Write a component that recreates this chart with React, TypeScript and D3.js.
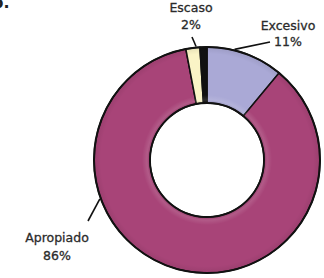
import React from "react";
import * as d3 from "d3";

const categories = ["Excesivo", "Apropiado", "Escaso", "Otro"];
const values = [11, 86, 2, 1];
const labels = ["11%", "86%", "2%", ""];
const colors = ["#aaa9d6", "#a84478", "#faf4c6", "#111111"];

const W = 324;
const H = 278;
const cx = 207;
const cy = 160;
const rOuter = 113;
const rInner = 57;

const labelLayout: Record<string, { x: number; y1: number; y2: number; ang: number; lx: number; ly: number }> = {
  Excesivo: { x: 288, y1: 30, y2: 46, ang: 14, lx: 270, ly: 42 },
  Apropiado: { x: 57, y1: 242, y2: 260, ang: 250, lx: 88, ly: 221 },
  Escaso: { x: 191, y1: 12, y2: 29, ang: 354.5, lx: 192, ly: 37 },
};

export default function App() {
  const pie = d3
    .pie<number>()
    .sort(null)
    .value((d) => d)
    .startAngle(0)
    .endAngle(2 * Math.PI);
  const arcs = pie(values);
  const arc = d3.arc<d3.PieArcDatum<number>>().innerRadius(rInner).outerRadius(rOuter);
  const ring = d3.arc()({ innerRadius: rInner, outerRadius: rOuter, startAngle: 0, endAngle: 2 * Math.PI }) || "";
  const fontFamily = "'DejaVu Sans', sans-serif";

  return (
    <svg width={W} height={H} style={{ position: "absolute", left: 0, top: 0, background: "#fff" }}>
      <defs>
        <radialGradient id="bevel" cx={0} cy={0} r={rOuter} gradientUnits="userSpaceOnUse">
          <stop offset={rInner / rOuter} stopColor="#000" stopOpacity={0.12} />
          <stop offset={(rInner + 3) / rOuter} stopColor="#fff" stopOpacity={0.12} />
          <stop offset={(rInner + 8) / rOuter} stopColor="#fff" stopOpacity={0} />
          <stop offset={0.94} stopColor="#000" stopOpacity={0} />
          <stop offset={1} stopColor="#000" stopOpacity={0.08} />
        </radialGradient>
      </defs>
      <text x={-8} y={8} fontFamily={fontFamily} fontWeight="bold" fontSize={16} fill="#222">
        b.
      </text>
      <g transform={`translate(${cx},${cy})`}>
        {arcs.map((a, i) => (
          <path key={categories[i]} d={arc(a) || ""} fill={colors[i]} stroke="#111" strokeWidth={1.5} />
        ))}
        <path d={ring} fill="url(#bevel)" pointerEvents="none" />
        <circle r={rOuter} fill="none" stroke="#111" strokeWidth={2} />
        <circle r={rInner} fill="none" stroke="#111" strokeWidth={1.8} />
      </g>
      {categories.map((c, i) => {
        const L = labelLayout[c];
        if (!L) return null;
        const t = (L.ang * Math.PI) / 180;
        const px = cx + (rOuter + 1) * Math.sin(t);
        const py = cy - (rOuter + 1) * Math.cos(t);
        return (
          <g key={c}>
            <line x1={px} y1={py} x2={L.lx} y2={L.ly} stroke="#111" strokeWidth={1.6} />
            <text x={L.x} y={L.y1} textAnchor="middle" fontFamily={fontFamily} fontSize={12.5} fill="#2b2b2b" stroke="#2b2b2b" strokeWidth={0.3}>
              {c}
            </text>
            <text x={L.x} y={L.y2} textAnchor="middle" fontFamily={fontFamily} fontSize={12.5} fill="#2b2b2b" stroke="#2b2b2b" strokeWidth={0.3}>
              {labels[i]}
            </text>
          </g>
        );
      })}
    </svg>
  );
}
